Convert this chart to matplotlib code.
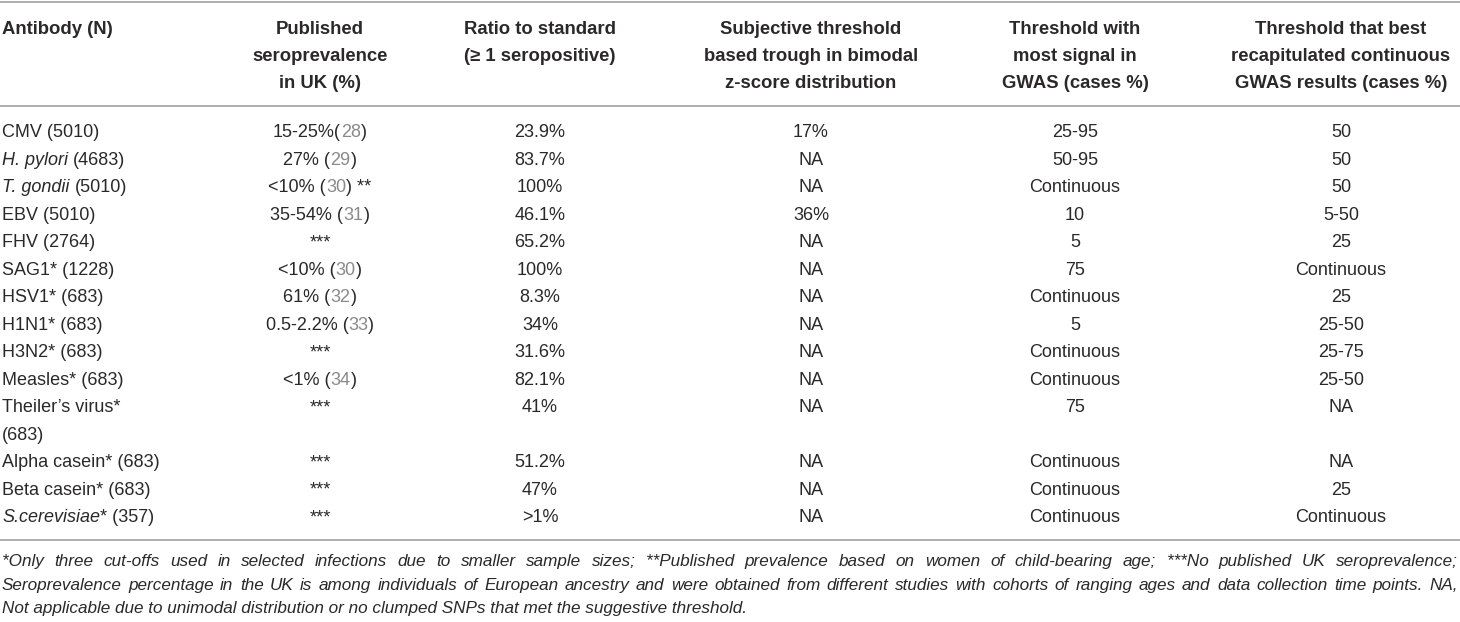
import re
import matplotlib
matplotlib.use("Agg")
import matplotlib.pyplot as plt

# ---------------- data ----------------
headers = [
    ["Antibody (N)"],
    ["Published", "seroprevalence", "in UK (%)"],
    ["Ratio to standard", "(≥ 1 seropositive)"],
    ["Subjective threshold", "based trough in bimodal", "z-score distribution"],
    ["Threshold with", "most signal in", "GWAS (cases %)"],
    ["Threshold that best", "recapitulated continuous", "GWAS results (cases %)"],
]

# markup: _italic_  {grey reference}
antibody = [
    "CMV (5010)", "_H. pylori_ (4683)", "_T. gondii_ (5010)", "EBV (5010)",
    "FHV (2764)", "SAG1* (1228)", "HSV1* (683)", "H1N1* (683)", "H3N2* (683)",
    "Measles* (683)", "Theiler’s virus*\n(683)", "Alpha casein* (683)",
    "Beta casein* (683)", "_S.cerevisiae_* (357)",
]
published = [
    "15-25%({28})", "27% ({29})", "<10% ({30}) **", "35-54% ({31})", "***",
    "<10% ({30})", "61% ({32})", "0.5-2.2% ({33})", "***", "<1% ({34})",
    "***", "***", "***", "***",
]
ratio = ["23.9%", "83.7%", "100%", "46.1%", "65.2%", "100%", "8.3%", "34%",
         "31.6%", "82.1%", "41%", "51.2%", "47%", ">1%"]
subjective = ["17%", "NA", "NA", "36%", "NA", "NA", "NA", "NA", "NA", "NA",
              "NA", "NA", "NA", "NA"]
most_signal = ["25-95", "50-95", "Continuous", "10", "5", "75", "Continuous",
               "5", "Continuous", "Continuous", "75", "Continuous",
               "Continuous", "Continuous"]
best_recap = ["50", "50", "50", "5-50", "25", "Continuous", "25", "25-50",
              "25-75", "25-50", "NA", "NA", "25", "Continuous"]

footnote_lines = [
    "*Only three cut-offs used in selected infections due to smaller sample sizes; "
    "**Published prevalence based on women of child-bearing age; ***No published UK seroprevalence;",
    "Seroprevalence percentage in the UK is among individuals of European ancestry and were "
    "obtained from different studies with cohorts of ranging ages and data collection time points. NA,",
    "Not applicable due to unimodal distribution or no clumped SNPs that met the suggestive threshold.",
]

columns = [antibody, published, ratio, subjective, most_signal, best_recap]

# ---------------- layout ----------------
W, H = 1460, 622
FONT = "Liberation Sans"
TXT = "#2b2829"
REF = "#8a8a8a"
RULE = "#a8a8a8"
BODY_FS = 13.0
HEAD_FS = 13.3
FOOT_FS = 12.3

col_x = [2, 320, 540, 811, 1075, 1341]
col_ha = ["left", "center", "center", "center", "center", "center"]
head_y0, head_pitch = 27.5, 27.0
row_y0, row_pitch = 131.0, 27.5
rule_y = [1.5, 106.0, 540.0]
foot_y = [560.0, 584.0, 607.5]
x_left, x_right = 2, 1458
BASE = 6.3   # centre-to-baseline offset in px

fig = plt.figure(figsize=(W / 100, H / 100), dpi=100)
ax = fig.add_axes([0, 0, 1, 1])
ax.set_xlim(0, W)
ax.set_ylim(H, 0)
ax.axis("off")
fig.canvas.draw()
R = fig.canvas.get_renderer()


def width(s, **kw):
    t = ax.text(0, 0, s, **kw)
    w = t.get_window_extent(R).width
    t.remove()
    return w


def parse(s):
    segs = []
    for part in re.split(r"(_[^_]+_|\{[^}]+\})", s):
        if not part:
            continue
        if part.startswith("_") and part.endswith("_"):
            segs.append((part[1:-1], dict(style="italic")))
        elif part.startswith("{") and part.endswith("}"):
            segs.append((part[1:-1], dict(color=REF)))
        else:
            segs.append((part, {}))
    return segs


def draw_rich(x, y, s, ha, fs):
    base = dict(fontsize=fs, family=FONT, color=TXT, va="baseline", ha="left")
    sp = width("n n", **base) - width("nn", **base)
    pieces = []
    total = 0.0
    for txt, props in parse(s):
        kw = dict(base)
        kw.update(props)
        lead = len(txt) - len(txt.lstrip(" "))
        trail = len(txt) - len(txt.rstrip(" "))
        core = txt.strip(" ")
        w = width(core, **kw) if core else 0.0
        pieces.append((lead * sp, core, kw, w, trail * sp))
        total += lead * sp + w + trail * sp
    cx = x - total / 2 if ha == "center" else x
    for lead, core, kw, w, trail in pieces:
        cx += lead
        if core:
            ax.text(cx, y, core, **kw)
        cx += w + trail


# rules
for y in rule_y:
    ax.plot([0, W], [y, y], color=RULE, lw=1.3, solid_capstyle="butt")

# header
for ci, lines in enumerate(headers):
    for li, line in enumerate(lines):
        ax.text(col_x[ci], head_y0 + li * head_pitch + BASE, line, fontsize=HEAD_FS,
                family=FONT, weight="bold", color=TXT, ha=col_ha[ci], va="baseline")

# body
line_idx = 0
for ri in range(len(antibody)):
    nlines = max(len(col[ri].split("\n")) for col in columns)
    for ci, col in enumerate(columns):
        for li, sub in enumerate(col[ri].split("\n")):
            y = row_y0 + (line_idx + li) * row_pitch + BASE
            draw_rich(col_x[ci], y, sub, col_ha[ci], BODY_FS)
    line_idx += nlines

# footnote (justified)
fkw = dict(family=FONT, style="italic", color=TXT, va="baseline", ha="left")
fs = FOOT_FS
while True:
    words = footnote_lines[1].split(" ")
    tot = sum(width(w, fontsize=fs, **fkw) for w in words)
    if (x_right - x_left - tot) / (len(words) - 1) >= 2.5 or fs < 9:
        break
    fs -= 0.1

for li, line in enumerate(footnote_lines):
    y = foot_y[li] + BASE * fs / BODY_FS
    if li < 2:
        words = line.split(" ")
        ws = [width(w, fontsize=fs, **fkw) for w in words]
        gap = (x_right - x_left - sum(ws)) / (len(words) - 1)
        cx = x_left
        for w, wd in zip(words, ws):
            ax.text(cx, y, w, fontsize=fs, **fkw)
            cx += wd + gap
    else:
        ax.text(x_left, y, line, fontsize=fs, **fkw)

fig.savefig("out.png", dpi=100, facecolor="white")
